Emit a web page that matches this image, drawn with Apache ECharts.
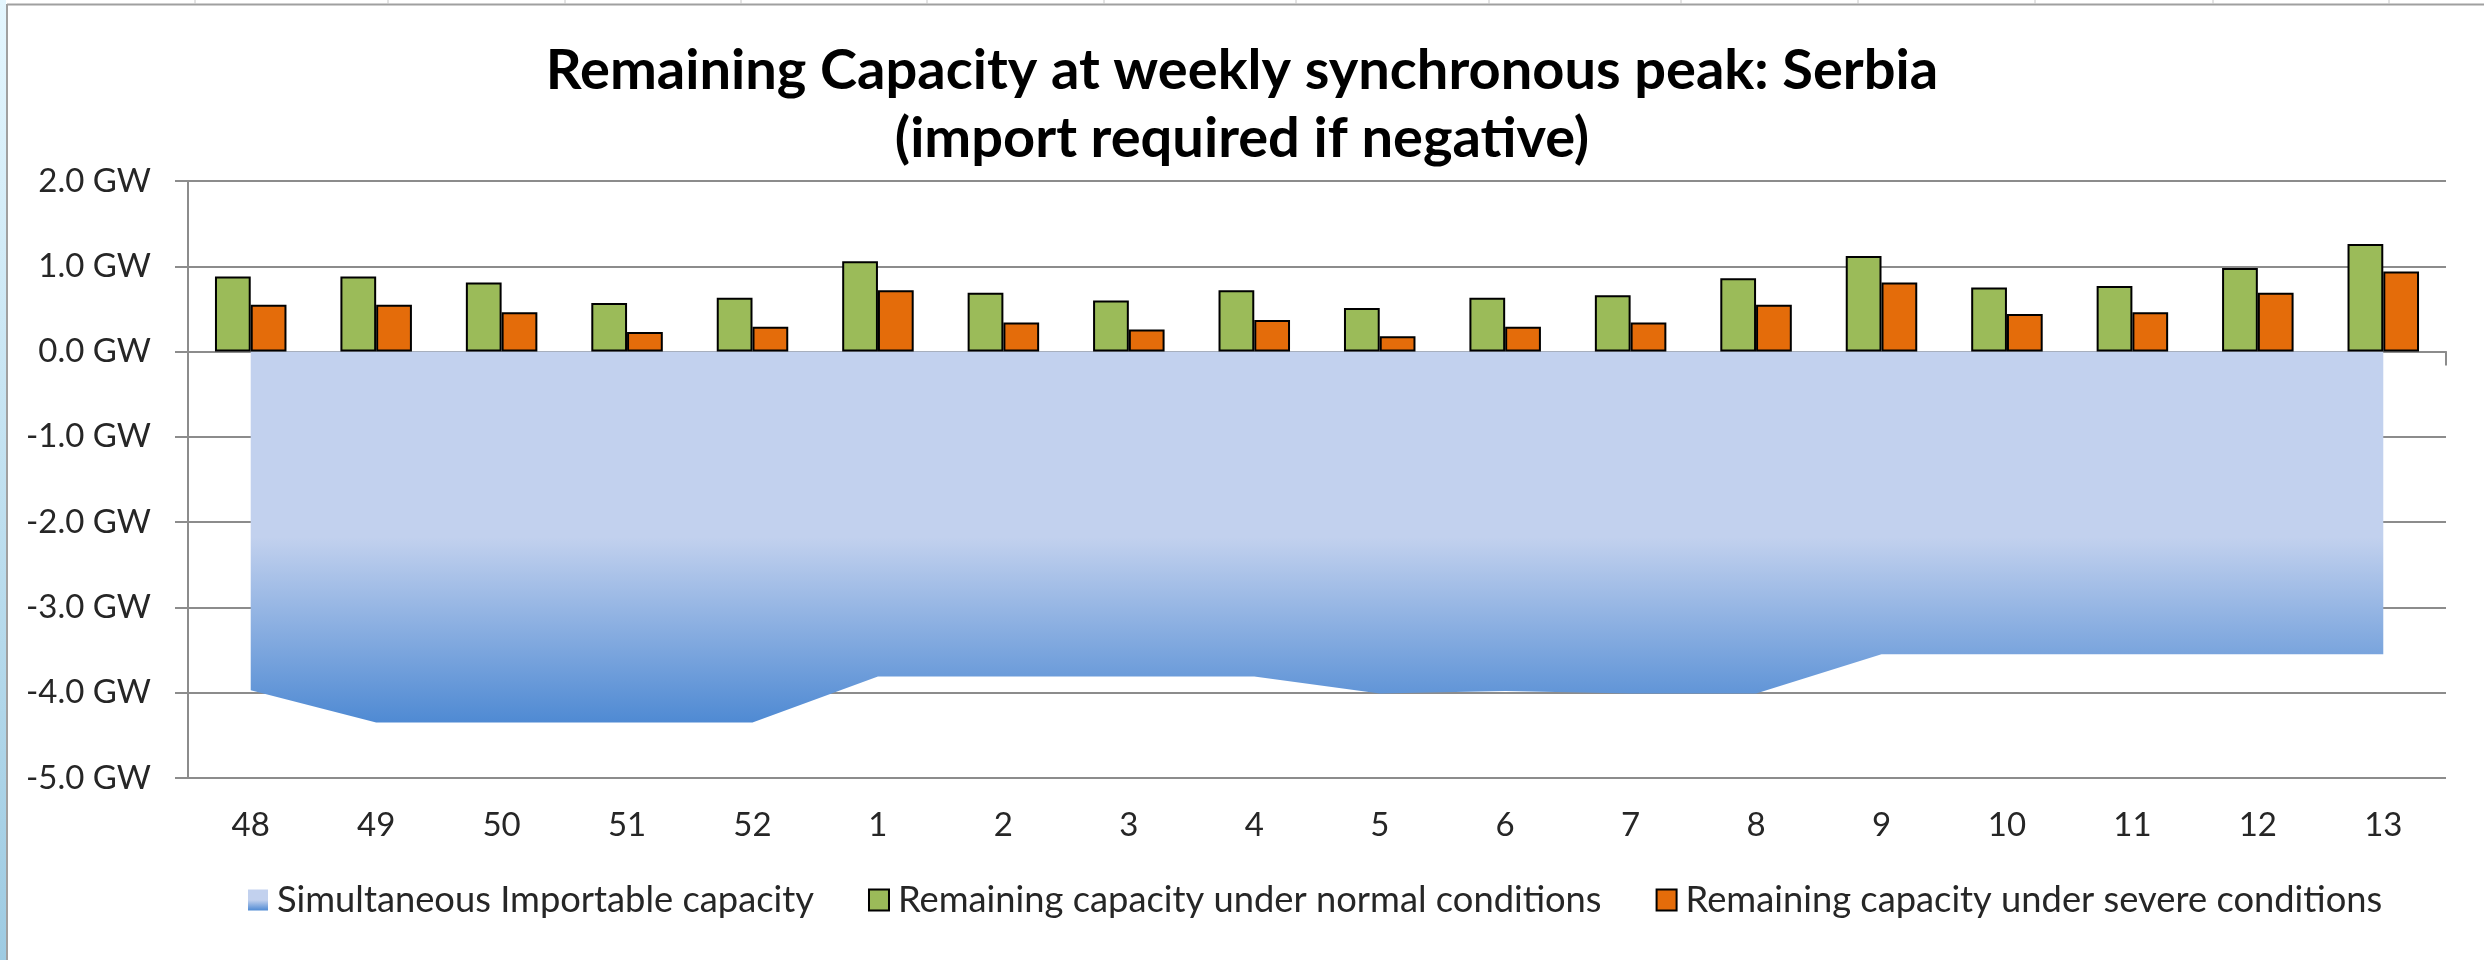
<!DOCTYPE html>
<html><head><meta charset="utf-8">
<script src="https://cdn.jsdelivr.net/npm/echarts@6/dist/echarts.min.js"></script>
<style>html,body{margin:0;padding:0;background:#fff}#c{width:2484px;height:960px}</style>
</head><body><div id="c"></div>
<script>
// ---- data ----
const weeks = ['48','49','50','51','52','1','2','3','4','5','6','7','8','9','10','11','12','13'];
const importable = [-3.97,-4.35,-4.35,-4.35,-4.35,-3.81,-3.81,-3.81,-3.81,-4.01,-3.98,-4.01,-4.01,-3.55,-3.55,-3.55,-3.55,-3.55];
const normal = [0.88,0.88,0.81,0.57,0.63,1.06,0.69,0.60,0.72,0.51,0.63,0.66,0.86,1.12,0.75,0.77,0.98,1.26];
const severe = [0.55,0.55,0.46,0.23,0.29,0.72,0.34,0.26,0.37,0.18,0.29,0.34,0.55,0.81,0.44,0.46,0.69,0.94];
const seriesNames = ['Simultaneous Importable capacity','Remaining capacity under normal conditions','Remaining capacity under severe conditions'];
const titleLines = ['Remaining Capacity at weekly synchronous peak: Serbia','(import required if negative)'];
const yUnit = ' GW';
const colSeparators = [195,388,565,741,927,1104,1296,1489,1681,1858,2035,2213,2389];

const FONT = 'Lato';
const GRID = '#8C8C8C';
const TXT = '#262626';
const chart = echarts.init(document.getElementById('c'));
const grad = () => new echarts.graphic.LinearGradient(0,0,0,1,[
  {offset:0,color:'#C2D1EE'},{offset:0.5,color:'#C2D1EE'},{offset:1,color:'#4F8AD3'}]);

const graphic = [
  {type:'rect', silent:true, shape:{x:0,y:0,width:6,height:960},
   style:{fill:new echarts.graphic.LinearGradient(0,0,0,1,[{offset:0,color:'#E4F6FE'},{offset:1,color:'#9ECBE2'}])}},
  {type:'line', silent:true, shape:{x1:7,y1:4,x2:7,y2:960}, style:{stroke:'#A0A0A0',lineWidth:2}},
  {type:'line', silent:true, shape:{x1:7,y1:4.5,x2:2484,y2:4.5}, style:{stroke:'#A0A0A0',lineWidth:2}}
].concat(colSeparators.map(x => ({type:'line', silent:true, shape:{x1:x,y1:0,x2:x,y2:4}, style:{stroke:'#C8C8C8',lineWidth:1}})));

chart.setOption({
  animation:false,
  backgroundColor:'#ffffff',
  graphic: graphic,
  title:{
    text: titleLines.join('\n'), left:'center', top:37, padding:0,
    textStyle:{fontFamily:FONT, fontWeight:'bold', fontSize:56, lineHeight:68, color:'#000'}
  },
  grid:{left:188, right:38, top:181, bottom:182},
  legend:{
    left:243, top:877, itemWidth:20, itemHeight:21, itemGap:54,
    textStyle:{fontFamily:FONT, fontSize:36.3, color:TXT, padding:[0,0,0,4]},
    data:[
      {name:seriesNames[0], icon:'rect', itemStyle:{color:grad(), borderWidth:0}},
      {name:seriesNames[1], icon:'rect', itemStyle:{color:'#9BBB59', borderColor:'#000', borderWidth:2}},
      {name:seriesNames[2], icon:'rect', itemStyle:{color:'#E46C0A', borderColor:'#000', borderWidth:2}}
    ]
  },
  xAxis:[
    {type:'category', data:weeks, position:'bottom',
     axisLine:{show:true, onZero:true, lineStyle:{color:GRID, width:2}},
     axisTick:{show:true, interval:0, length:14, lineStyle:{color:GRID, width:2}},
     axisLabel:{show:false}, splitLine:{show:false}},
    {type:'category', data:weeks, position:'bottom',
     axisLine:{show:false, onZero:false}, axisTick:{show:false},
     axisLabel:{show:true, interval:0, margin:31, fontFamily:FONT, fontSize:33, color:TXT},
     splitLine:{show:false}}
  ],
  yAxis:{
    type:'value', min:-5, max:2, interval:1,
    axisLine:{show:true, lineStyle:{color:GRID, width:2}},
    axisTick:{show:true, length:13, lineStyle:{color:GRID, width:2}},
    splitLine:{show:true, lineStyle:{color:GRID, width:2}},
    axisLabel:{margin:37, fontFamily:FONT, fontSize:33, color:TXT, formatter:v => v.toFixed(1) + yUnit}
  },
  series:[
    {name:seriesNames[0], type:'line', xAxisIndex:0, data:importable, symbol:'none', z:1,
     lineStyle:{width:0, opacity:0}, itemStyle:{color:grad()},
     areaStyle:{color:grad(), opacity:1}},
    {name:seriesNames[1], type:'bar', xAxisIndex:0, data:normal, barGap:'0%', barCategoryGap:'43%', z:3,
     itemStyle:{color:'#9BBB59', borderColor:'#000', borderWidth:2}},
    {name:seriesNames[2], type:'bar', xAxisIndex:0, data:severe, z:3,
     itemStyle:{color:'#E46C0A', borderColor:'#000', borderWidth:2}}
  ]
});
</script></body></html>
